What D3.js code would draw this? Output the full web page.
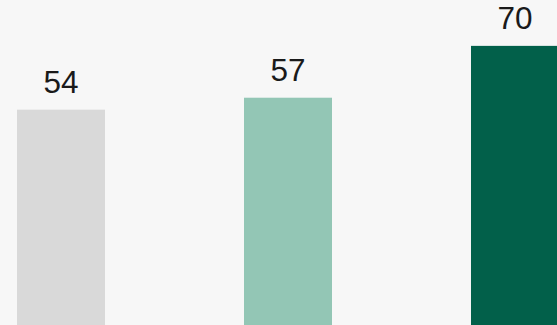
<!DOCTYPE html>
<html>
<head>
<meta charset="utf-8">
<script src="https://cdn.jsdelivr.net/npm/d3@7"></script>
<style>
  html, body { margin: 0; padding: 0; background: #f7f7f7; }
  svg { display: block; }
</style>
</head>
<body>
<svg id="chart" width="557" height="325"></svg>
<script>
const categories = ["A", "B", "C"];
const values = [54, 57, 70];
const colors = ["#d9d9d9", "#93c6b5", "#02604a"];

const width = 557, height = 325;
const svg = d3.select("#chart");

svg.append("rect")
  .attr("width", width).attr("height", height)
  .attr("fill", "#f7f7f7");

const x = d3.scaleBand()
  .domain(categories)
  .range([-52.5, 628.5])
  .paddingInner(0.6123)
  .paddingOuter(0.30615);

const y = d3.scaleLinear()
  .domain([0, 80])
  .range([height, 6]);

const data = categories.map((c, i) => ({ c, v: values[i], color: colors[i] }));

svg.selectAll("rect.bar")
  .data(data)
  .join("rect")
  .attr("class", "bar")
  .attr("x", d => x(d.c))
  .attr("y", d => y(d.v))
  .attr("width", x.bandwidth())
  .attr("height", d => y(0) - y(d.v))
  .attr("fill", d => d.color);

svg.selectAll("text.label")
  .data(data)
  .join("text")
  .attr("class", "label")
  .attr("x", d => x(d.c) + x.bandwidth() / 2)
  .attr("y", d => y(d.v) - 16.5)
  .attr("text-anchor", "middle")
  .attr("font-family", "'Liberation Sans', Arial, sans-serif")
  .attr("font-size", 31.5)
  .attr("fill", "#1a1a1a")
  .text(d => d.v);
</script>
</body>
</html>
